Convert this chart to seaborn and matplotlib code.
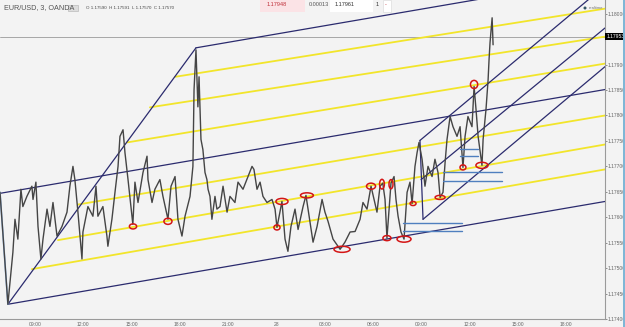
"""
plot.py
-------
EUR/USD 3-minute chart with pitchfork, parallel lines and marked swing points.
"""

import matplotlib
matplotlib.use("Agg")
import matplotlib.pyplot as plt
from matplotlib.patches import Ellipse, Rectangle
import seaborn as sns

# price series: hours since 27th 00:00, price
hours = [6.83, 7.32, 7.63, 7.76, 7.94, 8.13, 8.25, 8.50, 8.81, 8.88, 9.06, 9.19, 9.37, 9.50,
         9.75, 9.93, 10.12, 10.37, 10.68, 10.99, 11.17, 11.36, 11.48, 11.67, 11.92, 11.98,
         12.29, 12.60, 12.79, 12.91, 13.22, 13.47, 13.53, 13.78, 13.97, 14.16, 14.28, 14.47,
         14.59, 14.78, 15.08, 15.21, 15.40, 15.71, 15.96, 16.02, 16.27, 16.45, 16.76, 16.95,
         17.26, 17.45, 17.70, 17.88, 18.13, 18.32, 18.63, 18.81, 18.88, 19.00, 19.12, 19.19,
         19.31, 19.43, 19.56, 19.68, 19.75, 19.87, 19.99, 20.18, 20.30, 20.49, 20.68, 20.93,
         21.11, 21.42, 21.61, 21.92, 22.23, 22.48, 22.60, 22.79, 22.98, 23.16, 23.41, 23.72,
         23.91, 24.03, 24.34, 24.53, 24.71, 24.90, 25.15, 25.34, 25.65, 25.83, 26.08, 26.27,
         26.52, 26.83, 27.01, 27.20, 27.51, 27.95, 28.25, 28.57, 28.88, 29.19, 29.37, 29.62,
         29.87, 30.06, 30.24, 30.43, 30.60, 30.74, 30.86, 31.11, 31.30, 31.42, 31.55, 31.73,
         31.92, 32.11, 32.29, 32.42, 32.60, 32.73, 32.85, 33.04, 33.22, 33.41, 33.66, 33.84,
         34.03, 34.16, 34.34, 34.47, 34.59, 34.78, 34.96, 35.21, 35.40, 35.58, 35.71, 35.89,
         36.14, 36.27, 36.39, 36.52, 36.76, 36.83, 37.01, 37.14, 37.20, 37.26, 37.39, 37.45]
prices = [1.17649, 1.17429, 1.17531, 1.17596, 1.17557, 1.17655, 1.17621, 1.17641, 1.17661,
          1.17635, 1.17669, 1.17582, 1.17518, 1.17557, 1.17616, 1.17582, 1.17629, 1.17563,
          1.17582, 1.17610, 1.17661, 1.17700, 1.17674, 1.17610, 1.17518, 1.17571, 1.17621,
          1.17602, 1.17661, 1.17602, 1.17621, 1.17563, 1.17543, 1.17596, 1.17649, 1.17700,
          1.17759, 1.17772, 1.17727, 1.17674, 1.17586, 1.17669, 1.17629, 1.17688, 1.17720,
          1.17674, 1.17629, 1.17655, 1.17674, 1.17641, 1.17596, 1.17661, 1.17680, 1.17596,
          1.17563, 1.17602, 1.17641, 1.17700, 1.17851, 1.17929, 1.17817, 1.17876, 1.17753,
          1.17733, 1.17688, 1.17674, 1.17655, 1.17641, 1.17596, 1.17641, 1.17616, 1.17621,
          1.17661, 1.17610, 1.17641, 1.17629, 1.17669, 1.17655, 1.17680, 1.17700, 1.17694,
          1.17655, 1.17669, 1.17641, 1.17629, 1.17635, 1.17616, 1.17580, 1.17631, 1.17557,
          1.17533, 1.17582, 1.17616, 1.17576, 1.17621, 1.17643, 1.17590, 1.17551, 1.17582,
          1.17635, 1.17610, 1.17592, 1.17557, 1.17537, 1.17551, 1.17571, 1.17572, 1.17596,
          1.17629, 1.17616, 1.17661, 1.17635, 1.17610, 1.17661, 1.17667, 1.17635, 1.17559,
          1.17667, 1.17680, 1.17635, 1.17602, 1.17571, 1.17557, 1.17649, 1.17669, 1.17627,
          1.17700, 1.17727, 1.17747, 1.17714, 1.17661, 1.17700, 1.17680, 1.17714, 1.17688,
          1.17639, 1.17649, 1.17708, 1.17753, 1.17798, 1.17778, 1.17759, 1.17778, 1.17698,
          1.17759, 1.17798, 1.17778, 1.17857, 1.17812, 1.17759, 1.17702, 1.17753, 1.17812,
          1.17870, 1.17910, 1.17943, 1.17992, 1.17939]

# pitchfork / channel lines (navy): start hour, start price, end hour, end price
navy_lines = [
    (7.32, 1.17429, 19.00, 1.17933),
    (19.00, 1.17933, 44.40, 1.18071),
    (6.83, 1.17647, 44.40, 1.17851),
    (7.32, 1.17429, 44.40, 1.17631),
    (32.91, 1.17751, 33.10, 1.17596),
    (32.91, 1.17751, 44.40, 1.18055),
    (32.98, 1.17674, 44.40, 1.17972),
    (33.10, 1.17596, 44.40, 1.17896),
]
# parallel levels (yellow)
yellow_lines = [
    (17.70, 1.17876, 44.40, 1.18010),
    (16.14, 1.17816, 44.40, 1.17955),
    (14.71, 1.17747, 44.40, 1.17902),
    (11.67, 1.17625, 44.40, 1.17800),
    (10.43, 1.17555, 44.40, 1.17743),
    (8.81, 1.17498, 44.40, 1.17694),
]
# short horizontal levels (blue)
blue_levels = [
    (31.86, 35.52, 1.17588), (31.86, 35.52, 1.17572),
    (34.34, 38.01, 1.17688), (34.34, 38.01, 1.17672),
    (35.40, 36.52, 1.17735), (35.40, 36.52, 1.17720),
]
# marked swing points (red ellipses): hour, price, width (h), height (price)
marks_t = [15.09, 17.26, 24.03, 24.34, 25.89, 28.07, 29.87, 30.55, 31.11, 30.86, 31.92,
           32.48, 34.16, 35.58, 36.76, 36.27]
marks_p = [1.17582, 1.17592, 1.17580, 1.17631, 1.17643, 1.17537, 1.17661, 1.17665, 1.17665,
           1.17559, 1.17557, 1.17627, 1.17639, 1.17698, 1.17702, 1.17861]
marks_w = [0.45, 0.50, 0.38, 0.75, 0.80, 1.00, 0.56, 0.30, 0.25, 0.50, 0.87, 0.37, 0.62,
           0.37, 0.75, 0.45]
marks_h = [0.00010, 0.00012, 0.00010, 0.00012, 0.00010, 0.00012, 0.00012, 0.00019, 0.00018,
           0.00010, 0.00012, 0.00008, 0.00008, 0.00010, 0.00012, 0.00016]

x_ticks = [9, 12, 15, 18, 21, 24, 27, 30, 33, 36, 39, 42]
x_labels = ["09:00", "12:00", "15:00", "18:00", "21:00", "28",
            "03:00", "06:00", "09:00", "12:00", "15:00", "18:00"]
y_ticks = [1.174, 1.1745, 1.175, 1.1755, 1.176, 1.1765, 1.177, 1.1775, 1.178, 1.1785,
           1.179, 1.18]
last_price = 1.17955

sns.set_theme(style="white")
plt.rcParams["font.family"] = ["Liberation Sans", "DejaVu Sans"]

bg = "#f3f3f3"
fig = plt.figure(figsize=(6.25, 3.27), dpi=100, facecolor=bg)
ax = fig.add_axes([0, 8 / 327, 605 / 625, 319 / 327])
ax.set_facecolor(bg)

for t0, p0, t1, p1 in yellow_lines:
    ax.plot([t0, t1], [p0, p1], color="#f2e52a", lw=1.3, zorder=2)
for t0, p0, t1, p1 in navy_lines:
    ax.plot([t0, t1], [p0, p1], color="#2b2b6e", lw=0.9, zorder=3)
ax.plot(hours[:2], prices[:2], color="#8fb4e3", lw=1.2, zorder=3)

sns.lineplot(x=hours, y=prices, ax=ax, color="#454545", lw=1.0, sort=False,
             estimator=None, zorder=4)

for t0, t1, p in blue_levels:
    ax.plot([t0, t1], [p, p], color="#4f7fbf", lw=1.0, zorder=5)

for t, p, w, h in zip(marks_t, marks_p, marks_w, marks_h):
    ax.add_patch(Ellipse((t, p), w, h, fill=False, edgecolor="#d41515", lw=1.1, zorder=6))

ax.axhline(last_price, color="#9a9a9a", lw=0.6, zorder=1)

ax.set_xlim(6.83, 44.40)
ax.set_ylim(1.17402, 1.18027)
ax.yaxis.tick_right()
ax.set_yticks(y_ticks)
ax.set_yticklabels([f"{v:.5f}" for v in y_ticks])
ax.set_xticks(x_ticks)
ax.set_xticklabels(x_labels)
ax.tick_params(axis="both", labelsize=3.6, colors="#666666", length=1.5, width=0.5, pad=0.6)
for side in ("top", "left"):
    ax.spines[side].set_visible(False)
for side in ("right", "bottom"):
    ax.spines[side].set_color("#9a9a9a")
    ax.spines[side].set_linewidth(0.8)
ax.set_xlabel("")
ax.set_ylabel("")

# header texts and boxes
fig.text(4 / 625, 1 - 8 / 327, "EUR/USD, 3, OANDA", fontsize=5.2, color="#555555", va="center")
fig.patches.append(Rectangle((68 / 625, 1 - 11 / 327), 10 / 625, 6 / 327, transform=fig.transFigure,
                             facecolor="#dddddd", edgecolor="#bbbbbb", lw=0.5))
fig.text(86 / 625, 1 - 8 / 327, "O 1.17590  H 1.17591  L 1.17570  C 1.17570", fontsize=3.2,
         color="#444444", va="center")
fig.patches.append(Rectangle((260 / 625, 1 - 12 / 327), 45 / 625, 12 / 327, transform=fig.transFigure,
                             facecolor="#fbe3e6", edgecolor="none"))
fig.text(267 / 625, 1 - 4 / 327, "1.17948", fontsize=4.0, color="#c0303a", va="center")
fig.text(309 / 625, 1 - 4 / 327, "0.00013", fontsize=4.0, color="#555555", va="center")
fig.patches.append(Rectangle((330 / 625, 1 - 12 / 327), 43 / 625, 12 / 327, transform=fig.transFigure,
                             facecolor="#ffffff", edgecolor="none"))
fig.text(335 / 625, 1 - 4 / 327, "1.17961", fontsize=4.0, color="#333333", va="center")
fig.text(376 / 625, 1 - 4 / 327, "1", fontsize=4.0, color="#333333", va="center")
fig.patches.append(Rectangle((383 / 625, 1 - 12 / 327), 8 / 625, 12 / 327, transform=fig.transFigure,
                             facecolor="#ffffff", edgecolor="#dddddd", lw=0.5))
fig.text(385 / 625, 1 - 5 / 327, "-", fontsize=4.0, color="#c0303a", va="center")

# realtime marker
fig.patches.append(Ellipse((585 / 625, 1 - 8 / 327), 3 / 625, 3 / 327, transform=fig.transFigure,
                           facecolor="#335566", edgecolor="none"))
fig.text(589 / 625, 1 - 8 / 327, "realtime", fontsize=3.0, color="#777777", va="center")

# last price box on the price axis
ax.text(1.002, last_price, "1.17953", transform=ax.get_yaxis_transform(), fontsize=3.6,
        color="white", va="center", ha="left",
        bbox=dict(boxstyle="square,pad=0.2", facecolor="black", edgecolor="none"))

# blue frame strip at the right edge
fig.patches.append(Rectangle((623 / 625, 0), 2 / 625, 1, transform=fig.transFigure,
                             facecolor="#7fb6d6", edgecolor="none"))

plt.savefig("out.png", dpi=100, facecolor=bg)
plt.close()
